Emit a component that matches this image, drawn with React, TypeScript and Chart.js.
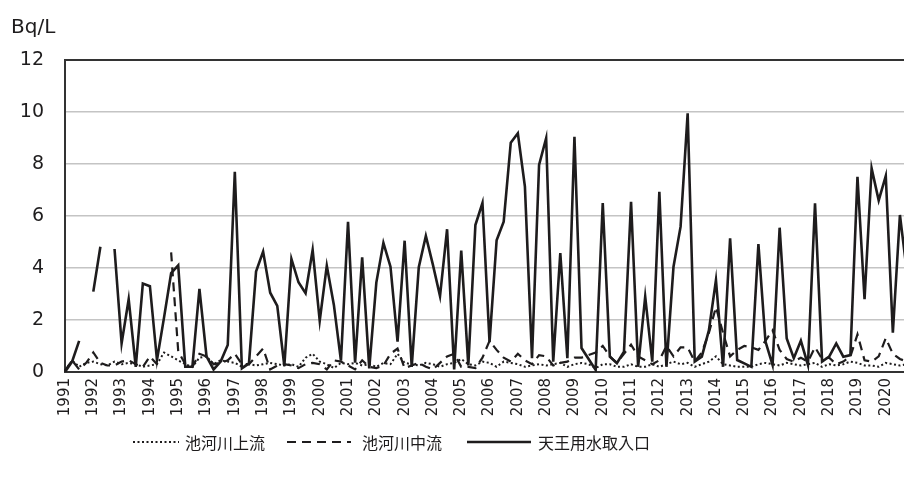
import React, { useEffect, useRef } from 'react';
import { Chart, registerables } from 'chart.js';

Chart.register(...registerables);

// ---- data ----
const years = [
  1991, 1992, 1993, 1994, 1995, 1996, 1997, 1998, 1999, 2000,
  2001, 2002, 2003, 2004, 2005, 2006, 2007, 2008, 2009, 2010,
  2011, 2012, 2013, 2014, 2015, 2016, 2017, 2018, 2019, 2020,
];
const quartersPerYear = 4;

const seriesNames = ['池河川上流', '池河川中流', '天王用水取入口'];
const unitLabel = 'Bq/L';
const yTicks = [0, 2, 4, 6, 8, 10, 12];

// 池河川上流 (dotted)
const upstream = [
  0.05, 0.45, 0.2, 0.35, 0.4, 0.3, 0.25, 0.4, 0.3, 0.35,
  0.3, 0.2, 0.25, 0.3, 0.75, 0.6, 0.45, 0.3, 0.2, 0.55,
  0.6, 0.3, 0.45, 0.4, 0.35, 0.2, 0.3, 0.25, 0.3, 0.35,
  0.3, 0.25, 0.3, 0.2, 0.55, 0.7, 0.4, 0.3, 0.15, 0.35,
  0.3, 0.35, 0.25, 0.3, 0.2, 0.35, 0.3, 0.7, 0.35, 0.3,
  0.25, 0.35, 0.3, 0.2, 0.3, 0.35, 0.5, 0.3, 0.25, 0.4,
  0.35, 0.2, 0.4, 0.35, 0.3, 0.2, 0.25, 0.3, 0.25, 0.3,
  0.35, 0.2, 0.3, 0.35, 0.3, 0.15, 0.3, 0.3, 0.2, 0.2,
  0.3, 0.2, 0.2, 0.3, 0.2, 0.3, 0.4, 0.3, 0.35, 0.2,
  0.3, 0.4, 0.6, 0.3, 0.25, 0.2, 0.2, 0.2, 0.3, 0.35,
  0.3, 0.25, 0.35, 0.3, 0.25, 0.3, 0.35, 0.2, 0.3, 0.25,
  0.3, 0.4, 0.35, 0.25, 0.25, 0.2, 0.35, 0.3, 0.25, 0.3,
];

// 池河川中流 (dashed)
const midstream = [
  0.05, 0.45, 0.1, 0.35, 0.75, 0.35, 0.25, 0.25, 0.4, 0.45,
  0.3, 0.2, 0.6, 0.3, null, 4.6, 0.8, 0.3, 0.2, 0.7,
  0.6, 0.3, 0.35, 0.45, 0.7, 0.3, 0.3, 0.6, 0.9, 0.1,
  0.25, 0.3, 0.25, 0.15, 0.3, 0.35, 0.3, 0.1, 0.45, 0.4,
  0.25, 0.1, 0.45, 0.2, 0.15, 0.25, 0.7, 0.9, 0.15, 0.25,
  0.35, 0.2, 0.1, 0.35, 0.6, 0.7, 0.2, 0.2, 0.15, 0.55,
  1.2, 0.85, 0.55, 0.4, 0.7, 0.45, 0.3, 0.65, 0.6, 0.25,
  0.35, 0.4, 0.55, 0.55, 0.65, 0.75, 1.0, 0.6, 0.35, 0.7,
  1.05, 0.6, 0.45, 0.3, 0.45, 1.0, 0.6, 0.95, 0.95, 0.4,
  0.75, 1.5, 2.5, 1.5, 0.6, 0.85, 1.0, 0.95, 0.85, 1.2,
  1.6, 0.85, 0.5, 0.4, 0.55, 0.4, 0.95, 0.5, 0.55, 0.3,
  0.4, 0.6, 1.45, 0.45, 0.4, 0.6, 1.3, 0.7, 0.5, 0.4,
];

// 天王用水取入口 (solid)
const intake = [
  0.0, 0.4, 1.2, null, 3.09, 4.82, null, 4.73, 1.1, 2.8,
  0.2, 3.4, 3.3, 0.46, 2.1, 3.8, 4.1, 0.2, 0.2, 3.2,
  0.6, 0.1, 0.4, 1.04, 7.7, 0.14, 0.33, 3.86, 4.63, 3.05,
  2.54, 0.23, 4.35, 3.45, 3.03, 4.69, 1.97, 4.09, 2.58, 0.44,
  5.78, 0.36, 4.41, 0.14, 3.44, 4.97, 4.05, 1.17, 5.05, 0.2,
  4.03, 5.23, 4.12, 2.92, 5.49, 0.1, 4.67, 0.25, 5.65, 6.5,
  1.15, 5.07, 5.78, 8.82, 9.18, 7.13, 0.53, 7.96, 8.99, 0.4,
  4.57, 0.53, 9.05, 0.92, 0.5, 0.08, 6.5, 0.59, 0.34, 0.78,
  6.55, 0.2, 2.9, 0.4, 6.93, 0.2, 4.05, 5.59, 9.95, 0.4,
  0.59, 1.6, 3.54, 0.2, 5.14, 0.46, 0.33, 0.2, 4.92, 1.17,
  0.27, 5.55, 1.29, 0.53, 1.2, 0.27, 6.49, 0.4, 0.59, 1.1,
  0.59, 0.65, 7.51, 2.8, 7.83, 6.6, 7.54, 1.51, 6.04, 3.8,
];

// category labels: year on first quarter, blank otherwise
const labels: string[] = [];
years.forEach((y) => {
  for (let q = 0; q < quartersPerYear; q++) labels.push(q === 0 ? String(y) : '');
});

const NUM_FONT = '"DejaVu Sans", "Noto Sans CJK JP", sans-serif';
const INK = '#1e1c1d';

const styles = [
  { dash: [2, 2.5], width: 2 },
  { dash: [9, 6], width: 2.2 },
  { dash: [] as number[], width: 2.6 },
];

const overlayPlugin = {
  id: 'overlay',
  afterDraw(chart: any) {
    const ctx = chart.ctx as CanvasRenderingContext2D;
    ctx.save();
    ctx.fillStyle = INK;
    ctx.textBaseline = 'alphabetic';
    ctx.textAlign = 'left';
    ctx.font = `20px ${NUM_FONT}`;
    ctx.fillText(unitLabel, 11, 33);

    // legend
    const ly = 442;
    const items = [
      { x0: 133, x1: 179, tx: 185 },
      { x0: 287, x1: 351, tx: 362 },
      { x0: 467, x1: 531, tx: 538 },
    ];
    ctx.font = `16px "Noto Sans CJK JP", sans-serif`;
    ctx.textBaseline = 'middle';
    items.forEach((it, i) => {
      ctx.beginPath();
      ctx.strokeStyle = INK;
      ctx.lineWidth = styles[i].width;
      ctx.setLineDash(styles[i].dash);
      ctx.moveTo(it.x0, ly);
      ctx.lineTo(it.x1, ly);
      ctx.stroke();
      ctx.setLineDash([]);
      ctx.fillText(seriesNames[i], it.tx, ly + 1);
    });
    ctx.restore();
  },
};

export default function App() {
  const ref = useRef<HTMLCanvasElement | null>(null);

  useEffect(() => {
    if (!ref.current) return;
    const datasets = [upstream, midstream, intake].map((d, i) => ({
      label: seriesNames[i],
      data: d,
      borderColor: INK,
      backgroundColor: INK,
      borderWidth: styles[i].width,
      borderDash: styles[i].dash,
      pointRadius: 0,
      pointHoverRadius: 0,
      tension: 0,
      spanGaps: false,
      fill: false,
      order: 2 - i,
    }));

    const chart = new Chart(ref.current, {
      type: 'line',
      data: { labels, datasets },
      plugins: [overlayPlugin],
      options: {
        animation: false,
        responsive: false,
        devicePixelRatio: 1,
        layout: { padding: { top: 60, right: 5, left: 0, bottom: 0 } },
        plugins: {
          legend: { display: false },
          tooltip: { enabled: false },
          title: { display: false },
        },
        scales: {
          x: {
            type: 'category',
            offset: false,
            grid: { display: false, drawTicks: false },
            border: { display: true, color: '#333', width: 2 },
            ticks: {
              autoSkip: false,
              minRotation: 90,
              maxRotation: 90,
              padding: 6,
              color: INK,
              font: { family: NUM_FONT, size: 15 },
            },
            afterFit: (scale: any) => {
              scale.height = 114;
              scale.paddingLeft = 0;
              scale.paddingRight = 0;
            },
          },
          y: {
            min: 0,
            max: 12,
            afterBuildTicks: (scale: any) => {
              scale.ticks = yTicks.map((v) => ({ value: v }));
            },
            grid: {
              drawTicks: false,
              color: (c: any) => (c.tick && (c.tick.value === 12 || c.tick.value === 0) ? '#333' : '#c4c4c4'),
              lineWidth: (c: any) => (c.tick && (c.tick.value === 12 || c.tick.value === 0) ? 2 : 1.6),
            },
            border: { display: true, color: '#333', width: 2 },
            ticks: {
              padding: 21,
              color: INK,
              font: { family: NUM_FONT, size: 19 },
            },
            afterFit: (scale: any) => {
              scale.width = 65;
              scale.paddingTop = 0;
              scale.paddingBottom = 0;
            },
          },
        },
      },
    });
    return () => chart.destroy();
  }, []);

  return (
    <div
      style={{
        position: 'fixed',
        left: 0,
        top: 0,
        width: 904,
        height: 486,
        overflow: 'hidden',
        background: '#fff',
      }}
    >
      <canvas ref={ref} width={912} height={486} style={{ display: 'block', width: 912, height: 486 }} />
    </div>
  );
}
